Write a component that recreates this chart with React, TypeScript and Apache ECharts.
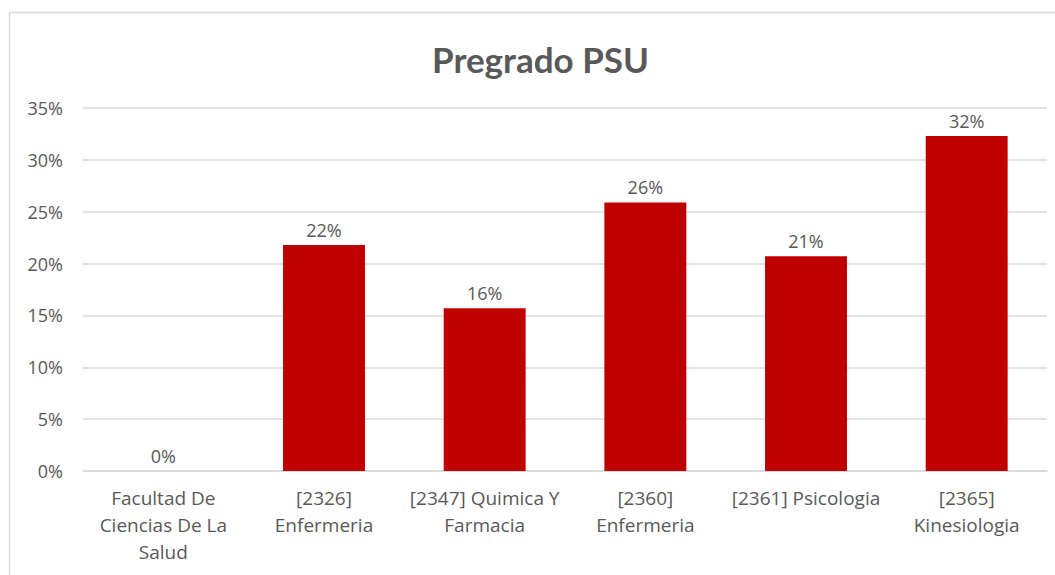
import React, { useEffect, useRef } from "react";
import * as echarts from "echarts";

const categories = [
  "Facultad De\nCiencias De La\nSalud",
  "[2326]\nEnfermeria",
  "[2347] Quimica Y\nFarmacia",
  "[2360]\nEnfermeria",
  "[2361] Psicologia",
  "[2365]\nKinesiologia",
];
const values = [0, 21.8, 15.7, 25.9, 20.7, 32.3];
const yTicks = [0, 5, 10, 15, 20, 25, 30, 35];

const FONT = "'Open Sans', Lato, sans-serif";
const TITLE_FONT = "Lato, 'Open Sans', sans-serif";
const GRAY = "#595959";

export default function App() {
  const ref = useRef<HTMLDivElement>(null);
  useEffect(() => {
    if (!ref.current) return;
    const chart = echarts.init(ref.current, undefined, { renderer: "svg" });
    chart.setOption({
      animation: false,
      backgroundColor: "#ffffff",
      title: {
        text: "Pregrado PSU",
        left: 427,
        top: 36,
        textStyle: { fontFamily: TITLE_FONT, fontSize: 35, fontWeight: "bold", color: GRAY },
      },
      graphic: [
        {
          type: "rect",
          shape: { x: 9.5, y: 12.5, width: 1100, height: 600 },
          style: { fill: "none", stroke: "#d9d9d9", lineWidth: 1.5 },
          silent: true,
        },
      ],
      grid: { left: 83, right: 8, top: 108, bottom: 104 },
      xAxis: {
        type: "category",
        data: categories,
        axisLine: { lineStyle: { color: "#d9d9d9", width: 1.5 } },
        axisTick: { show: false },
        axisLabel: {
          fontFamily: FONT,
          fontSize: 19,
          color: GRAY,
          lineHeight: 27,
          margin: 13,
          interval: 0,
        },
      },
      yAxis: {
        type: "value",
        min: 0,
        max: 35,
        interval: 5,
        axisLine: { show: false },
        axisTick: { show: false },
        splitLine: { lineStyle: { color: "#d9d9d9", width: 1.5 } },
        axisLabel: {
          fontFamily: FONT,
          fontSize: 18,
          color: GRAY,
          margin: 20,
          formatter: (v: number) => (yTicks.includes(v) ? v + "%" : ""),
        },
      },
      series: [
        {
          type: "bar",
          data: values,
          barWidth: "51%",
          itemStyle: { color: "#C00000" },
          label: {
            show: true,
            position: "top",
            distance: 6,
            fontFamily: FONT,
            fontSize: 18,
            color: GRAY,
            formatter: (p: any) => Math.round(p.value) + "%",
          },
        },
      ],
    });
    return () => chart.dispose();
  }, []);
  return (
    <div
      ref={ref}
      style={{ position: "fixed", left: 0, top: 0, width: 1055, height: 575 }}
    />
  );
}
